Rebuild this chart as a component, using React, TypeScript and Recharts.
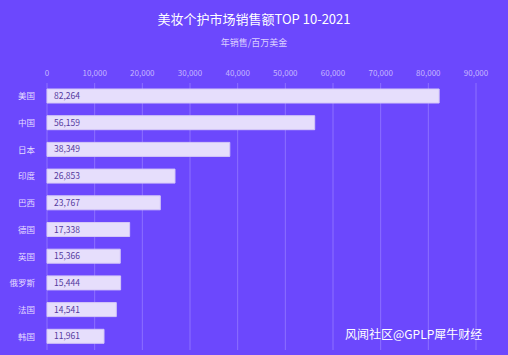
import React from 'react';
import { BarChart, Bar, XAxis, YAxis, CartesianGrid, LabelList } from 'recharts';

const countries = ['美国', '中国', '日本', '印度', '巴西', '德国', '英国', '俄罗斯', '法国', '韩国'];
const sales = [82264, 56159, 38349, 26853, 23767, 17338, 15366, 15444, 14541, 11961];
const xTicks = [0, 10000, 20000, 30000, 40000, 50000, 60000, 70000, 80000, 90000];

const data = countries.map((name, i) => ({ name, value: sales[i] }));

const FONT = '"Noto Sans CJK SC", "Noto Sans", sans-serif';
const fmt = (v: number) => v.toLocaleString('en-US');

export default function App() {
  return (
    <div
      style={{
        position: 'absolute',
        left: 0,
        top: 0,
        width: 508,
        height: 355,
        background: '#6c48fd',
        fontFamily: FONT,
        overflow: 'hidden',
      }}
    >
      <style>{'body{margin:0}'}</style>
      <div
        style={{
          position: 'absolute',
          top: 9,
          width: 508,
          textAlign: 'center',
          color: '#ffffff',
          fontSize: 13,
        }}
      >
        美妆个护市场销售额TOP 10-2021
      </div>
      <div
        style={{
          position: 'absolute',
          top: 36,
          width: 508,
          textAlign: 'center',
          color: '#dcd0ff',
          fontSize: 9,
        }}
      >
        年销售/百万美金
      </div>
      <BarChart
        width={508}
        height={355}
        data={data}
        layout="vertical"
        margin={{ top: 60, right: 32, left: 0, bottom: 5 }}
        barSize={14}
      >
        <CartesianGrid horizontal={false} stroke="#8d70ff" strokeWidth={1} />
        <XAxis
          type="number"
          orientation="top"
          domain={[0, 90000]}
          ticks={xTicks}
          tickFormatter={fmt}
          axisLine={false}
          tickLine={false}
          height={23}
          tick={{ fill: '#c6b6ff', fontSize: 8, fontFamily: FONT }}
          tickMargin={1}
          interval={0}
        />
        <YAxis
          type="category"
          dataKey="name"
          width={47}
          axisLine={false}
          tickLine={false}
          tick={{ fill: '#e4dbff', fontSize: 8.5, fontFamily: FONT }}
          tickMargin={6}
        />
        <Bar dataKey="value" fill="#e6defc" stroke="#d4c7f7" strokeWidth={1} isAnimationActive={false}>
          <LabelList
            dataKey="value"
            position="insideLeft"
            offset={7}
            formatter={(v: any) => fmt(Number(v))}
            style={{ fill: '#553a9e', fontSize: 8.5, fontFamily: FONT }}
          />
        </Bar>
      </BarChart>
      <div
        style={{
          position: 'absolute',
          left: 345,
          top: 325,
          color: '#ffffff',
          fontSize: 12,
          whiteSpace: 'nowrap',
        }}
      >
        风闻社区@GPLP犀牛财经
      </div>
    </div>
  );
}
